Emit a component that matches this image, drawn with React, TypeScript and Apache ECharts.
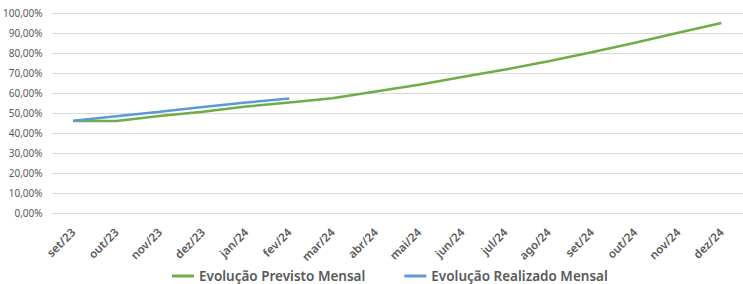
import React, { useEffect, useRef } from "react";
import * as echarts from "echarts";

const categories = ["set/23", "out/23", "nov/23", "dez/23", "jan/24", "fev/24", "mar/24", "abr/24", "mai/24", "jun/24", "jul/24", "ago/24", "set/24", "out/24", "nov/24", "dez/24"];
const previsto = [46.0, 46.0, 48.5, 50.6, 53.2, 55.3, 57.4, 60.8, 64.1, 68.0, 71.7, 75.9, 80.4, 85.1, 90.1, 95.0];
const realizado = [46.1, 48.4, 50.6, 53.0, 55.2, 57.3];
const seriesNames = ["Evolução Previsto Mensal", "Evolução Realizado Mensal"];

const fmt = (v: number) => v.toFixed(2).replace(".", ",") + "%";

export default function App() {
  const ref = useRef<HTMLDivElement>(null);
  useEffect(() => {
    if (!ref.current) return;
    const chart = echarts.init(ref.current, undefined, { renderer: "svg" });
    chart.setOption({
      animation: false,
      grid: { left: 51, right: -9, top: 13, bottom: 71, containLabel: false },
      legend: {
        top: 269,
        left: 172,
        padding: 0,
        itemGap: 39,
        itemWidth: 22,
        itemHeight: 3,
        icon: "rect",
        textStyle: { color: "#595959", fontSize: 13.5, lineHeight: 14, fontFamily: "Noto Sans", fontWeight: 600 },
        data: seriesNames,
      },
      xAxis: {
        type: "category",
        data: categories,
        boundaryGap: true,
        axisLine: { show: false },
        axisTick: { show: false },
        axisLabel: {
          rotate: 45,
          interval: 0,
          margin: 17,
          color: "#595959",
          fontSize: 11.5,
          fontWeight: 600,
          fontFamily: "Noto Sans",
        },
      },
      yAxis: {
        type: "value",
        min: 0,
        max: 100,
        interval: 10,
        axisLine: { show: false },
        axisTick: { show: false },
        splitLine: { lineStyle: { color: "#d9d9d9", width: 1 } },
        axisLabel: {
          formatter: (v: number) => fmt(v),
          color: "#595959",
          fontSize: 10,
          fontFamily: "Noto Sans",
          margin: 9,
        },
      },
      series: [
        {
          name: seriesNames[0],
          type: "line",
          data: previsto,
          showSymbol: false,
          symbol: "none",
          lineStyle: { color: "#70AD47", width: 2.5 },
          itemStyle: { color: "#70AD47" },
        },
        {
          name: seriesNames[1],
          type: "line",
          data: realizado,
          showSymbol: false,
          symbol: "none",
          lineStyle: { color: "#5B9BD5", width: 2.5 },
          itemStyle: { color: "#5B9BD5" },
        },
      ],
    });
    return () => chart.dispose();
  }, []);
  return (
    <div
      ref={ref}
      style={{ position: "fixed", left: 0, top: 0, width: 743, height: 284, background: "#fff" }}
    />
  );
}
